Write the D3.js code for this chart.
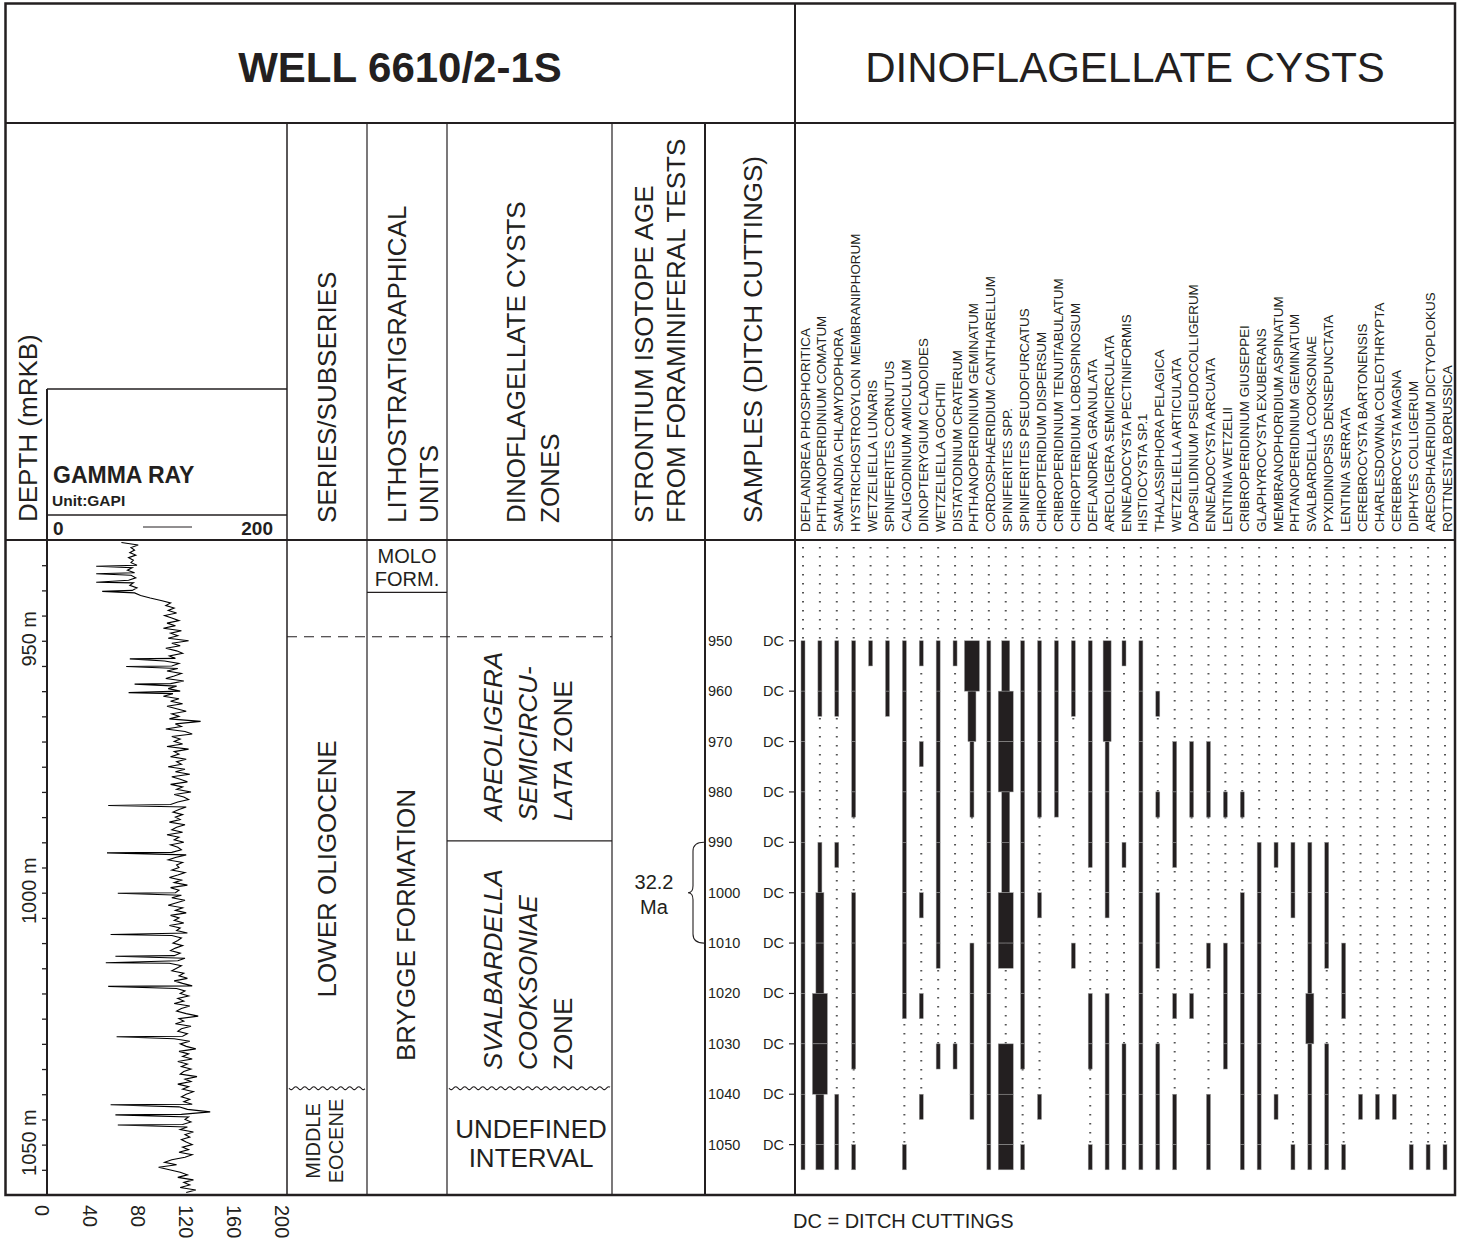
<!DOCTYPE html>
<html>
<head>
<meta charset="utf-8">
<script src="https://cdn.jsdelivr.net/npm/d3@7"></script>
<style>
  body { margin: 0; background: #fff; }
  svg { display: block; font-family: "Liberation Sans", Arial, sans-serif; }
</style>
</head>
<body>
<svg id="chart" width="1465" height="1245"></svg>
<script>
// ---------------- data ----------------
var sampleDepths = [950, 960, 970, 980, 990, 1000, 1010, 1020, 1030, 1040, 1050];

var species = [
  "DEFLANDREA PHOSPHORITICA", "PHTHANOPERIDINIUM COMATUM", "SAMLANDIA CHLAMYDOPHORA",
  "HYSTRICHOSTROGYLON MEMBRANIPHORUM", "WETZELIELLA LUNARIS", "SPINIFERITES CORNUTUS",
  "CALIGODINIUM AMICULUM", "DINOPTERYGIUM CLADOIDES", "WETZELIELLA GOCHTII",
  "DISTATODINIUM CRATERUM", "PHTHANOPERIDINIUM GEMINATUM", "CORDOSPHAERIDIUM CANTHARELLUM",
  "SPINIFERITES SPP.", "SPINIFERITES PSEUDOFURCATUS", "CHIROPTERIDIUM DISPERSUM",
  "CRIBROPERIDINIUM TENUITABULATUM", "CHIROPTERIDIUM LOBOSPINOSUM", "DEFLANDREA GRANULATA",
  "AREOLIGERA SEMICIRCULATA", "ENNEADOCYSTA PECTINIFORMIS", "HISTIOCYSTA SP.1",
  "THALASSIPHORA PELAGICA", "WETZELIELLA ARTICULATA", "DAPSILIDINIUM PSEUDOCOLLIGERUM",
  "ENNEADOCYSTA ARCUATA", "LENTINIA WETZELII", "CRIBROPERIDINIUM GIUSEPPEI",
  "GLAPHYROCYSTA EXUBERANS", "MEMBRANOPHORIDIUM ASPINATUM", "PHTANOPERIDINIUM GEMINATUM",
  "SVALBARDELLA COOKSONIAE", "PYXIDINIOPSIS DENSEPUNCTATA", "LENTINIA SERRATA",
  "CEREBROCYSTA BARTONENSIS", "CHARLESDOWNIA COLEOTHRYPTA", "CEREBROCYSTA MAGNA",
  "DIPHYES COLLIGERUM", "AREOSPHAERIDIUM DICTYOPLOKUS", "ROTTNESTIA BORUSSICA"
];

// one row per species, one value per sample: 0 absent, 1 rare, 2 common, 3 abundant
var occurrence = [
  [1,1,1,1,1,1,1,1,1,1,1],
  [1,1,0,0,1,2,2,3,3,2,2],
  [1,1,0,0,1,0,0,0,0,1,1],
  [1,1,1,1,0,1,1,1,1,0,1],
  [1,0,0,0,0,0,0,0,0,0,0],
  [1,1,0,0,0,0,0,0,0,0,0],
  [1,1,1,1,1,1,1,1,0,0,1],
  [1,0,1,0,0,1,0,1,0,1,0],
  [1,1,1,1,1,1,1,0,1,0,0],
  [1,0,0,0,0,0,0,0,1,0,0],
  [3,2,1,1,0,0,1,1,1,1,0],
  [1,1,1,1,1,1,1,1,1,1,1],
  [2,3,3,2,2,3,3,0,3,3,3],
  [1,1,1,1,1,1,1,1,1,0,1],
  [1,1,1,1,0,1,0,0,0,1,0],
  [1,1,1,1,0,0,0,0,0,0,0],
  [1,1,0,0,0,0,1,0,0,0,0],
  [1,1,1,1,1,0,0,1,1,0,1],
  [2,2,1,1,1,1,0,1,1,1,1],
  [1,0,0,0,1,0,0,0,1,1,1],
  [1,1,1,1,1,1,1,1,1,1,1],
  [0,1,0,1,0,1,1,0,1,1,1],
  [0,0,1,1,1,0,0,1,0,1,1],
  [0,0,1,1,0,0,0,1,0,0,0],
  [0,0,1,1,0,0,1,0,0,1,1],
  [0,0,0,1,0,0,1,1,1,0,0],
  [0,0,0,1,0,1,1,1,1,1,1],
  [0,0,0,0,1,1,1,1,1,1,1],
  [0,0,0,0,1,0,0,0,0,1,0],
  [0,0,0,0,1,1,0,0,0,0,1],
  [0,0,0,0,1,1,1,2,1,1,1],
  [0,0,0,0,1,1,1,0,1,1,1],
  [0,0,0,0,0,0,1,1,0,0,1],
  [0,0,0,0,0,0,0,0,0,1,0],
  [0,0,0,0,0,0,0,0,0,1,0],
  [0,0,0,0,0,0,0,0,0,1,0],
  [0,0,0,0,0,0,0,0,0,0,1],
  [0,0,0,0,0,0,0,0,0,0,1],
  [0,0,0,0,0,0,0,0,0,0,1]
];

// gamma ray log (GAPI), every 0.5 m from 930.5 m
var grStart = 930.5, grStep = 0.5;
var grValues = [
  62, 76, 70, 73, 69, 74, 68, 72, 70, 75,
  71, 67, 73, 70, 74, 68, 72, 69, 75, 71,
  73, 78, 86, 95, 103, 99, 106, 101, 108, 98,
  104, 110, 100, 107, 97, 112, 103, 109, 101, 118,
  104, 111, 99, 108, 113, 102, 107, 98, 110, 104,
  109, 100, 112, 106, 99, 114, 103, 108, 101, 111,
  105, 97, 110, 103, 113, 100, 108, 116, 104, 110,
  102, 128, 107, 112, 99, 115, 121, 104, 111, 106,
  113, 100, 118, 106, 110, 103, 116, 108, 112, 101,
  115, 107, 119, 104, 111, 117, 103, 113, 108, 120,
  106, 114, 118, 109, 103, 116, 110, 105, 113, 107,
  111, 102, 115, 108, 104, 113, 100, 110, 106, 114,
  103, 109, 112, 104, 116, 107, 101, 113, 108, 110,
  104, 115, 109, 102, 112, 106, 117, 103, 110, 107,
  112, 104, 115, 108, 101, 113, 107, 116, 103, 110,
  106, 114, 102, 111, 108, 117, 104, 112, 109, 105,
  113, 107, 103, 111, 106, 115, 109, 102, 112, 108,
  104, 114, 110, 117, 106, 113, 121, 108, 115, 111,
  118, 109, 114, 106, 119, 112, 108, 116, 126, 110,
  114, 107, 120, 112, 109, 117, 113, 106, 119, 111,
  116, 124, 110, 118, 113, 121, 109, 117, 112, 120,
  114, 111, 125, 115, 120, 109, 118, 113, 122, 116,
  112, 119, 114, 121, 110, 117, 136, 112, 118, 115,
  120, 113, 117, 111, 122, 115, 119, 112, 116, 121,
  113, 118, 110, 121, 115, 104, 98, 108, 93, 102,
  111, 117, 109, 122, 114, 119, 111, 124, 116
];
// sharp low-GR spikes [depth m, GAPI]
var grSpikes = [
  [935.2, 41], [936.7, 41], [938.4, 41], [940.2, 46],
  [953.6, 69], [955.1, 66], [958.6, 73], [960.3, 68],
  [982.7, 51], [992.1, 50], [1000.1, 59], [1008.3, 53],
  [1012.6, 57], [1013.9, 49], [1018.6, 51], [1028.6, 58],
  [1042.1, 53], [1044.1, 57], [1046.1, 59]
];
var grTicks = [0, 40, 80, 120, 160, 200];
var depthLabels = [950, 1000, 1050];

// stratigraphic boundaries (m)
var moloBase = 940.4, oligoceneTop = 949.2, zoneBoundary = 989.7, unconformity = 1038.8;
var srAge = [990, 1000, 1010];

// ---------------- layout ----------------
var ink = "#231f20";
var L = 5.5, T = 3.5, R = 1455, B = 1195;
var headY = 123, bodyY = 540;
var colX = { gamma: 47, series: 287, litho: 367, zones: 447, sr: 612, samples: 705, dino: 795 };

var svg = d3.select("#chart");
svg.append("rect").attr("width", 1465).attr("height", 1245).attr("fill", "#fff");

var y = d3.scaleLinear().domain([930, 1060]).range([bodyY, B]);
var gx = d3.scaleLinear().domain([0, 200]).range([colX.gamma, colX.series]);
var sx = d3.scalePoint().domain(species).range([803, 1445]);
var barW = d3.scaleOrdinal().domain([1, 2, 3]).range([4, 8, 15]);

// ---------------- range chart ----------------
var chart = svg.append("g");
species.forEach(function (name, i) {
  var row = occurrence[i];
  var last = -1;
  row.forEach(function (v, k) { if (v > 0) last = k; });
  if (last >= 0) {
    chart.append("line")
      .attr("x1", sx(name)).attr("x2", sx(name))
      .attr("y1", 547).attr("y2", y(sampleDepths[last]))
      .attr("stroke", "#555").attr("stroke-width", 2)
      .attr("stroke-dasharray", "1.6,7.4");
  }
  row.forEach(function (v, k) {
    if (!v) return;
    var d0 = sampleDepths[k];
    var d1 = (k < row.length - 1 && row[k + 1] > 0) ? sampleDepths[k + 1] : d0 + 5;
    var w = barW(v);
    chart.append("rect")
      .attr("x", sx(name) - w / 2).attr("y", y(d0))
      .attr("width", w).attr("height", y(d1) - y(d0))
      .attr("fill", ink).attr("stroke", "#9a9a9a").attr("stroke-width", 0.5);
  });
});

// species labels
svg.append("g").selectAll("text").data(species).join("text")
  .attr("transform", function (d) { return "translate(" + (sx(d) + 6.5) + ",532) rotate(-90)"; })
  .style("font-size", "13.4px").attr("fill", ink)
  .text(function (d) { return d; });

// ---------------- gamma ray ----------------
var grPoints = grValues.map(function (v, i) { return [grStart + i * grStep, v]; })
  .concat(grSpikes)
  .sort(function (a, b) { return a[0] - b[0]; });

svg.append("path")
  .attr("d", d3.line().x(function (d) { return gx(d[1]); }).y(function (d) { return y(d[0]); })(grPoints))
  .attr("fill", "none").attr("stroke", "#000").attr("stroke-width", 1.1);

var depthAxis = svg.append("g")
  .attr("transform", "translate(" + colX.gamma + ",0)")
  .call(d3.axisLeft(y).tickValues(d3.range(935, 1060, 5)).tickSize(5).tickFormat(""));
depthAxis.select(".domain").remove();
depthAxis.selectAll("line").attr("stroke", ink).attr("stroke-width", 1.3);

svg.append("g").selectAll("text").data(depthLabels).join("text")
  .attr("transform", function (d) { return "translate(36," + (y(d) - 2) + ") rotate(-90)"; })
  .attr("text-anchor", "middle").style("font-size", "20px").attr("fill", ink)
  .text(function (d) { return d + " m"; });

svg.append("g").selectAll("text").data(grTicks).join("text")
  .attr("transform", function (d) { return "translate(" + (gx(d) - 12) + ",1205) rotate(90)"; })
  .style("font-size", "20px").attr("fill", ink)
  .text(function (d) { return d; });

// gamma header box
svg.append("text").attr("x", 53).attr("y", 483).style("font-size", "23px").style("font-weight", "bold").attr("fill", ink).text("GAMMA RAY");
svg.append("text").attr("x", 52).attr("y", 506).style("font-size", "15.5px").style("font-weight", "bold").attr("fill", ink).text("Unit:GAPI");
svg.append("text").attr("x", 53).attr("y", 535).style("font-size", "19px").style("font-weight", "bold").attr("fill", ink).text("0");
svg.append("text").attr("x", 273).attr("y", 535).attr("text-anchor", "end").style("font-size", "19px").style("font-weight", "bold").attr("fill", ink).text("200");
svg.append("line").attr("x1", 143).attr("x2", 192).attr("y1", 527).attr("y2", 527).attr("stroke", ink).attr("stroke-width", 1);

// ---------------- frame ----------------
function hline(x1, x2, yy, w, dash) {
  svg.append("line").attr("x1", x1).attr("x2", x2).attr("y1", yy).attr("y2", yy)
    .attr("stroke", ink).attr("stroke-width", w).attr("stroke-dasharray", dash || null);
}
function vline(xx, y1, y2, w) {
  svg.append("line").attr("x1", xx).attr("x2", xx).attr("y1", y1).attr("y2", y2)
    .attr("stroke", ink).attr("stroke-width", w);
}
hline(L, R, headY, 2);
hline(L, R, bodyY, 2);
vline(colX.dino, T, B, 2);
vline(colX.gamma, 389, B, 2);
vline(colX.series, headY, B, 1.5);
vline(colX.litho, headY, B, 1.2);
vline(colX.zones, headY, B, 1.2);
vline(colX.sr, headY, B, 1.2);
vline(colX.samples, headY, B, 2);
hline(colX.gamma, colX.series, 389, 1.3);
hline(colX.gamma, colX.series, 515, 1.3);
svg.append("rect").attr("x", L).attr("y", T).attr("width", R - L).attr("height", B - T)
  .attr("fill", "none").attr("stroke", ink).attr("stroke-width", 2.5);

// boundaries
hline(colX.litho, colX.zones, y(moloBase), 1.2);
hline(colX.series, colX.sr, y(oligoceneTop), 1.2, "10,7");
hline(colX.zones, colX.sr, y(zoneBoundary), 1.2);

function wavy(x1, x2, yy) {
  var pts = d3.range(x1, x2 + 0.1, 1).map(function (x) {
    return [x, yy + 1.6 * Math.sin(2 * Math.PI * (x - x1) / 9)];
  });
  svg.append("path").attr("d", d3.line().curve(d3.curveBasis)(pts))
    .attr("fill", "none").attr("stroke", ink).attr("stroke-width", 1.1);
}
wavy(colX.series + 2, colX.litho - 2, y(unconformity));
wavy(colX.zones + 2, colX.sr - 2, y(unconformity));

// strontium brace
(function () {
  var y1 = y(srAge[0]), ym = y(srAge[1]), y2 = y(srAge[2]);
  var x0 = 704, x1 = 693, xp = 688;
  var p = d3.path();
  p.moveTo(x0, y1);
  p.quadraticCurveTo(x1, y1, x1, y1 + 9);
  p.lineTo(x1, ym - 7);
  p.quadraticCurveTo(x1, ym, xp, ym);
  p.quadraticCurveTo(x1, ym, x1, ym + 7);
  p.lineTo(x1, y2 - 9);
  p.quadraticCurveTo(x1, y2, x0, y2);
  svg.append("path").attr("d", p.toString()).attr("fill", "none").attr("stroke", ink).attr("stroke-width", 1.1);
})();

// samples column
var samp = svg.append("g").style("font-size", "14.5px").attr("fill", ink);
samp.selectAll("text.d").data(sampleDepths).join("text").attr("class", "d")
  .attr("x", 708).attr("y", function (d) { return y(d) + 5; }).text(function (d) { return d; });
samp.selectAll("text.dc").data(sampleDepths).join("text").attr("class", "dc")
  .attr("x", 763).attr("y", function (d) { return y(d) + 5; }).text("DC");
samp.selectAll("line").data(sampleDepths).join("line")
  .attr("x1", 789).attr("x2", colX.dino).attr("y1", function (d) { return y(d); }).attr("y2", function (d) { return y(d); })
  .attr("stroke", ink).attr("stroke-width", 1.2);

// ---------------- texts ----------------
function vlabel(cx, yPos, lines, size, anchor, gap) {
  var n = lines.length;
  lines.forEach(function (line, i) {
    var xc = cx + (i - (n - 1) / 2) * gap;
    var t = svg.append("text")
      .attr("transform", "translate(" + (xc + size * 0.36) + "," + yPos + ") rotate(-90)")
      .attr("text-anchor", anchor).style("font-size", size + "px").attr("fill", ink);
    [].concat(line).forEach(function (part) {
      if (typeof part === "string") t.append("tspan").text(part);
      else t.append("tspan").style("font-style", "italic").text(part.i);
    });
  });
}
function htext(x, yy, str, size, weight) {
  svg.append("text").attr("x", x).attr("y", yy).attr("text-anchor", "middle")
    .style("font-size", size + "px").style("font-weight", weight || "normal").attr("fill", ink).text(str);
}

htext(400, 82, "WELL 6610/2-1S", 42, "bold");
htext(1125, 82, "DINOFLAGELLATE CYSTS", 42);

vlabel(28, 522, ["DEPTH (mRKB)"], 26, "start", 0);
vlabel(327, 523, ["SERIES/SUBSERIES"], 26, "start", 0);
vlabel(413, 523, ["LITHOSTRATIGRAPHICAL", "UNITS"], 26, "start", 32);
vlabel(533, 523, ["DINOFLAGELLATE CYSTS", "ZONES"], 26, "start", 34);
vlabel(660, 523, ["STRONTIUM ISOTOPE AGE", "FROM FORAMINIFERAL TESTS"], 26, "start", 32);
vlabel(753, 523, ["SAMPLES (DITCH CUTTINGS)"], 26, "start", 0);

vlabel(327, 869, ["LOWER OLIGOCENE"], 26, "middle", 0);
vlabel(324.5, 1141, ["MIDDLE", "EOCENE"], 20, "middle", 23);
vlabel(406, 925, ["BRYGGE FORMATION"], 26, "middle", 0);
vlabel(528, 821, [[{ i: "AREOLIGERA" }], [{ i: "SEMICIRCU-" }], [{ i: "LATA" }, " ZONE"]], 26, "start", 35);
vlabel(528, 1070, [[{ i: "SVALBARDELLA" }], [{ i: "COOKSONIAE" }], ["ZONE"]], 26, "start", 35);

htext(407, 563, "MOLO", 20);
htext(407, 586, "FORM.", 20);
htext(531, 1138, "UNDEFINED", 26);
htext(531, 1167, "INTERVAL", 26);
htext(654, 889, "32.2", 20);
htext(654, 914, "Ma", 20);

svg.append("text").attr("x", 793).attr("y", 1228).style("font-size", "20px").attr("fill", ink).text("DC = DITCH CUTTINGS");
</script>
</body>
</html>
